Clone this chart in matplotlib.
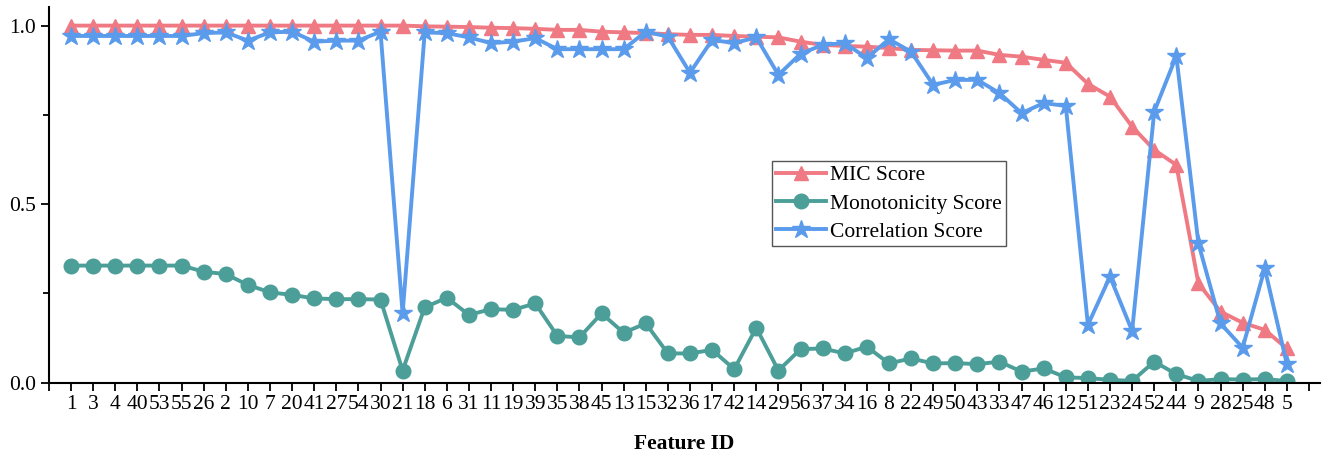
import numpy as np
import matplotlib.pyplot as plt

plt.rcParams.update({
    'font.family': ['Liberation Serif', 'DejaVu Serif'],
    'font.size': 15.5,
    'axes.spines.top': False,
    'axes.spines.right': False,
})

# Feature order on the x axis
feature_ids = ['1', '3', '4', '40', '53', '55', '26', '2', '10', '7', '20', '41', '27', '54',
               '30', '21', '18', '6', '31', '11', '19', '39', '35', '38', '45', '13', '15', '32',
               '36', '17', '42', '14', '29', '56', '37', '34', '16', '8', '22', '49', '50', '43',
               '33', '47', '46', '12', '51', '23', '24', '52', '44', '9', '28', '25', '48', '5']

mic_score = [1.0, 1.0, 1.0, 1.0, 1.0, 1.0, 1.0, 1.0, 1.0, 1.0, 1.0, 1.0, 1.0, 1.0,
             1.0, 1.0, 0.998, 0.997, 0.996, 0.994, 0.993, 0.991, 0.988, 0.988, 0.983, 0.981, 0.979, 0.976,
             0.974, 0.974, 0.971, 0.969, 0.967, 0.955, 0.946, 0.943, 0.941, 0.937, 0.932, 0.931, 0.930, 0.930,
             0.918, 0.913, 0.904, 0.896, 0.837, 0.801, 0.717, 0.652, 0.610, 0.278, 0.199, 0.168, 0.148, 0.096]

mono_score = [0.328, 0.328, 0.328, 0.328, 0.328, 0.328, 0.311, 0.304, 0.274, 0.253, 0.246, 0.236, 0.234, 0.234,
              0.233, 0.034, 0.211, 0.238, 0.190, 0.206, 0.204, 0.222, 0.131, 0.127, 0.194, 0.140, 0.166, 0.082,
              0.082, 0.092, 0.038, 0.154, 0.034, 0.094, 0.096, 0.082, 0.101, 0.054, 0.068, 0.054, 0.055, 0.052,
              0.059, 0.031, 0.040, 0.015, 0.013, 0.008, 0.005, 0.059, 0.024, 0.005, 0.010, 0.009, 0.010, 0.005]

corr_score = [0.971, 0.971, 0.971, 0.971, 0.971, 0.971, 0.979, 0.981, 0.958, 0.981, 0.983, 0.955, 0.958, 0.958,
              0.983, 0.194, 0.981, 0.979, 0.967, 0.951, 0.955, 0.965, 0.934, 0.934, 0.934, 0.934, 0.983, 0.969,
              0.868, 0.960, 0.951, 0.967, 0.862, 0.921, 0.946, 0.951, 0.909, 0.962, 0.927, 0.834, 0.848, 0.848,
              0.811, 0.755, 0.783, 0.775, 0.162, 0.297, 0.145, 0.759, 0.915, 0.390, 0.166, 0.098, 0.320, 0.052]

x = np.arange(1, len(feature_ids) + 1)

fig = plt.figure(figsize=(13.22, 4.54), dpi=100)
ax = fig.add_axes([0.037, 0.157, 0.9615, 0.8275])

ax.plot(x, mic_score, color='#F07A84', lw=2.8, marker='^', ms=10, label='MIC Score')
ax.plot(x, mono_score, color='#4C9E98', lw=2.8, marker='o', ms=10.5, label='Monotonicity Score')
ax.plot(x, corr_score, color='#5B9BEC', lw=2.8, marker='*', ms=13.5, label='Correlation Score')

ax.set_xlim(0, 57.5)
ax.set_ylim(0, 1.052)
ax.set_xticks(np.arange(0, 58))
ax.set_xticklabels([''] + feature_ids + [''])
ax.set_yticks([0.0, 0.5, 1.0])
ax.set_yticks([0.25, 0.75], minor=True)
ax.tick_params(axis='both', which='major', direction='out', length=6, width=1.3, labelsize=15.5, pad=3)
ax.tick_params(axis='y', which='minor', direction='out', length=4, width=1.3)
for s in ['left', 'bottom']:
    ax.spines[s].set_linewidth(1.5)

ax.set_xlabel('Feature ID', fontweight='bold', fontsize=15.5, labelpad=14)

leg = ax.legend(loc='upper left', bbox_to_anchor=(0.569, 0.59), fontsize=15.5, fancybox=False,
                edgecolor='#555555', framealpha=1, borderpad=0.2, labelspacing=0.38,
                handlelength=2.3, handletextpad=0.2, borderaxespad=0)
leg.get_frame().set_linewidth(1.0)

plt.savefig('out.png', dpi=100)
